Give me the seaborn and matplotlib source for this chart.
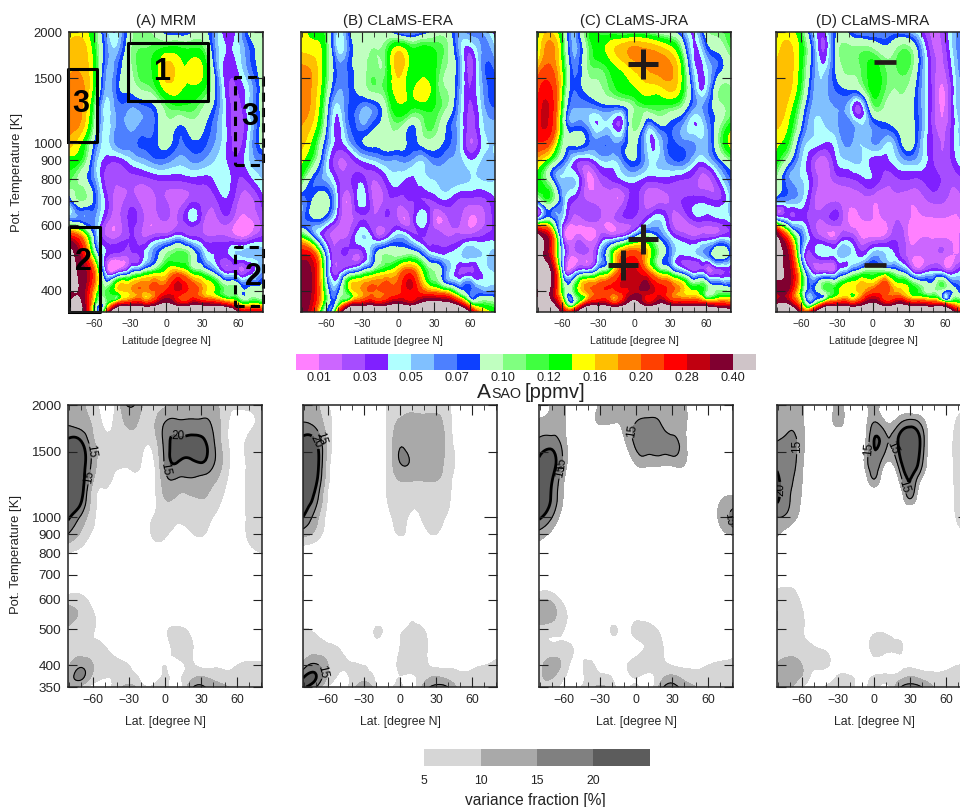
import numpy as np
import seaborn as sns
import matplotlib
matplotlib.use("Agg")
import matplotlib.pyplot as plt
import matplotlib.tri as mtri
from matplotlib.colors import ListedColormap
from matplotlib.patches import Rectangle

sns.set_theme(style="ticks")
plt.rcParams["font.family"] = ["Liberation Sans", "DejaVu Sans"]
plt.rcParams["axes.unicode_minus"] = True

LAT = [-81, -70, -60, -50, -40, -30, -20, -10, 0, 10, 20, 30, 40, 50, 60, 70, 81]
THETA = [2000, 1800, 1600, 1400, 1250, 1120, 1000, 900, 800, 700, 620, 560, 500, 450, 400, 370, 350]

# amplitude in ppbv, rows follow THETA
AMP_MRM = [
    [150, 150, 115, 55, 45, 90, 105, 95, 70, 65, 75, 90, 60, 35, 45, 85, 90],
    [165, 170, 125, 65, 55, 95, 110, 115, 125, 125, 120, 115, 65, 40, 45, 70, 90],
    [175, 175, 130, 60, 70, 95, 115, 125, 165, 150, 145, 142, 75, 35, 40, 65, 90],
    [185, 185, 125, 55, 75, 85, 100, 110, 145, 145, 135, 125, 85, 35, 30, 50, 90],
    [190, 180, 105, 45, 65, 60, 65, 75, 105, 115, 115, 100, 75, 40, 25, 50, 90],
    [185, 170, 95, 45, 62, 55, 62, 68, 95, 80, 90, 85, 65, 40, 22, 45, 90],
    [170, 135, 75, 45, 65, 65, 72, 75, 85, 70, 75, 75, 60, 40, 25, 50, 90],
    [130, 115, 60, 35, 33, 45, 55, 65, 65, 55, 60, 60, 50, 40, 32, 50, 60],
    [115, 90, 60, 25, 22, 25, 25, 30, 32, 32, 35, 35, 40, 45, 30, 35, 50],
    [60, 100, 75, 35, 15, 25, 15, 18, 20, 15, 25, 25, 25, 38, 20, 15, 35],
    [70, 65, 60, 25, 15, 32, 22, 12, 20, 20, 40, 25, 15, 25, 8, 8, 25],
    [260, 180, 70, 20, 18, 30, 20, 25, 30, 45, 30, 25, 20, 20, 10, 15, 30],
    [450, 280, 110, 35, 25, 25, 35, 65, 100, 115, 100, 60, 40, 35, 50, 55, 55],
    [400, 360, 200, 30, 25, 60, 90, 120, 145, 175, 130, 105, 70, 30, 25, 30, 60],
    [400, 360, 170, 110, 150, 170, 190, 200, 240, 280, 230, 180, 140, 105, 95, 85, 85],
    [420, 380, 130, 100, 210, 250, 260, 280, 400, 290, 300, 300, 280, 220, 150, 130, 120],
    [700, 420, 100, 180, 700, 700, 700, 700, 700, 700, 700, 700, 700, 700, 350, 300, 280],
]
AMP_ERA = [
    [150, 135, 110, 45, 75, 90, 100, 90, 60, 50, 65, 85, 90, 60, 65, 60, 30],
    [155, 150, 115, 45, 70, 90, 100, 110, 150, 125, 125, 120, 105, 60, 35, 60, 50],
    [185, 170, 115, 65, 75, 90, 105, 110, 170, 130, 130, 125, 100, 70, 25, 60, 65],
    [190, 170, 105, 60, 72, 88, 105, 115, 150, 135, 155, 125, 100, 65, 30, 55, 75],
    [190, 165, 90, 45, 72, 60, 65, 95, 135, 125, 125, 120, 100, 60, 28, 50, 70],
    [180, 150, 80, 35, 70, 60, 75, 90, 105, 80, 100, 110, 80, 55, 25, 45, 55],
    [170, 125, 65, 35, 55, 78, 85, 90, 90, 75, 85, 90, 75, 55, 20, 40, 50],
    [145, 105, 50, 20, 25, 40, 50, 60, 60, 60, 50, 65, 60, 55, 40, 50, 50],
    [115, 70, 55, 30, 28, 35, 20, 35, 45, 38, 45, 50, 55, 55, 50, 50, 50],
    [60, 85, 90, 35, 15, 45, 15, 25, 25, 30, 30, 30, 38, 28, 25, 25, 38],
    [60, 75, 60, 25, 15, 30, 22, 28, 20, 18, 48, 15, 15, 22, 8, 15, 35],
    [130, 70, 25, 15, 25, 50, 30, 30, 55, 40, 30, 28, 20, 22, 25, 30, 35],
    [280, 220, 65, 25, 25, 25, 70, 100, 95, 100, 75, 45, 40, 45, 55, 50, 55],
    [360, 280, 75, 25, 60, 85, 115, 140, 170, 220, 140, 100, 60, 30, 28, 40, 50],
    [380, 280, 100, 70, 140, 180, 200, 210, 220, 270, 210, 170, 140, 90, 70, 60, 60],
    [380, 260, 100, 100, 220, 270, 290, 300, 360, 310, 400, 440, 420, 300, 130, 110, 100],
    [400, 220, 70, 200, 700, 700, 700, 700, 700, 700, 700, 700, 700, 700, 350, 170, 130],
]
AMP_JRA = [
    [130, 160, 110, 55, 110, 115, 110, 100, 105, 100, 90, 80, 60, 40, 90, 105, 120],
    [130, 190, 125, 55, 95, 130, 150, 170, 185, 180, 170, 150, 100, 38, 65, 85, 110],
    [170, 205, 135, 65, 95, 110, 125, 145, 165, 180, 190, 185, 130, 45, 45, 70, 90],
    [220, 250, 135, 70, 85, 95, 110, 125, 135, 150, 150, 165, 130, 60, 45, 95, 100],
    [240, 270, 120, 60, 60, 65, 70, 70, 100, 110, 115, 110, 95, 60, 65, 90, 105],
    [250, 260, 110, 65, 60, 40, 45, 35, 105, 65, 75, 75, 60, 40, 55, 90, 125],
    [230, 200, 100, 85, 75, 65, 65, 65, 85, 50, 45, 72, 65, 60, 55, 95, 150],
    [170, 120, 75, 40, 30, 45, 50, 62, 80, 55, 50, 65, 70, 50, 45, 70, 100],
    [130, 85, 50, 50, 12, 18, 30, 40, 45, 35, 35, 35, 30, 25, 15, 35, 70],
    [70, 110, 60, 30, 20, 15, 15, 15, 35, 15, 15, 20, 30, 35, 35, 30, 55],
    [65, 90, 45, 15, 20, 20, 12, 25, 25, 35, 50, 25, 15, 30, 30, 35, 45],
    [450, 260, 35, 8, 5, 15, 25, 35, 70, 100, 75, 45, 28, 20, 25, 30, 35],
    [450, 280, 55, 12, 18, 40, 110, 200, 230, 170, 100, 65, 40, 45, 60, 95, 60],
    [450, 400, 70, 30, 55, 90, 130, 240, 290, 220, 130, 100, 60, 30, 25, 25, 25],
    [380, 380, 120, 110, 180, 220, 230, 260, 300, 320, 270, 220, 170, 140, 105, 100, 95],
    [450, 450, 180, 85, 240, 300, 260, 290, 440, 300, 360, 300, 280, 270, 240, 220, 210],
    [700, 700, 320, 300, 700, 700, 700, 700, 700, 700, 700, 700, 700, 700, 700, 600, 500],
]
AMP_MRA = [
    [145, 150, 115, 50, 40, 80, 75, 55, 55, 60, 65, 55, 35, 15, 30, 60, 70],
    [150, 165, 130, 65, 30, 90, 105, 105, 100, 85, 100, 105, 60, 20, 25, 60, 70],
    [165, 170, 125, 65, 45, 85, 105, 110, 125, 110, 110, 110, 65, 25, 20, 55, 65],
    [170, 165, 115, 60, 55, 72, 80, 90, 125, 110, 100, 95, 60, 25, 10, 50, 60],
    [175, 150, 95, 55, 55, 60, 50, 30, 100, 95, 95, 90, 60, 25, 10, 50, 60],
    [165, 135, 80, 50, 50, 58, 65, 50, 65, 75, 85, 90, 62, 25, 15, 45, 55],
    [145, 115, 60, 45, 38, 48, 62, 50, 60, 50, 62, 90, 55, 30, 20, 45, 50],
    [130, 85, 50, 25, 15, 40, 50, 50, 35, 35, 48, 60, 50, 30, 22, 40, 50],
    [100, 60, 50, 28, 15, 25, 28, 35, 38, 25, 28, 30, 30, 35, 25, 25, 35],
    [60, 58, 50, 22, 15, 18, 12, 15, 12, 15, 18, 12, 15, 22, 20, 15, 30],
    [75, 40, 38, 22, 22, 28, 8, 8, 8, 10, 20, 10, 8, 8, 8, 8, 20],
    [420, 180, 70, 30, 15, 15, 28, 8, 8, 12, 28, 8, 8, 8, 8, 8, 20],
    [450, 300, 65, 30, 45, 48, 50, 35, 55, 50, 35, 15, 12, 15, 15, 10, 25],
    [420, 340, 120, 30, 25, 35, 65, 95, 105, 105, 85, 50, 25, 40, 30, 35, 40],
    [330, 300, 120, 70, 105, 130, 150, 170, 210, 220, 170, 140, 110, 95, 80, 80, 70],
    [360, 340, 150, 80, 200, 250, 250, 290, 400, 280, 340, 280, 270, 240, 180, 140, 120],
    [700, 700, 260, 300, 700, 700, 700, 700, 700, 700, 700, 700, 700, 700, 700, 300, 280],
]

# variance fraction in percent
VAR_MRM = [
    [12, 11, 7, 3, 7, 16, 11, 8, 9, 11, 11, 11, 12, 7, 6, 6, 6],
    [14, 12, 9, 4, 7, 11, 9, 9, 15, 16, 16, 16, 14, 7, 3, 4, 6],
    [21, 20, 11, 6, 7, 9, 7, 7, 17, 21, 21, 21, 16, 7, 3, 6, 7],
    [24, 23, 13, 6, 5.5, 6, 5, 4, 16, 20, 19, 20, 16, 8, 3, 6, 8],
    [25, 23, 10, 5.5, 4, 3, 3, 3, 13, 14, 14, 13, 11, 6, 3, 6, 7],
    [25, 21, 7, 4, 2, 1, 1, 3, 10, 9, 9, 10, 8, 4, 3, 6, 8],
    [21, 14, 6, 2, 1, 1, 1, 5, 8, 6, 7, 7, 5, 2, 2, 6, 9],
    [15, 9, 4, 1, 0, 0, 0, 6, 6, 3, 4, 5.5, 3, 1, 1, 6, 7],
    [5, 3, 1, 0, 0, 0, 0, 1, 1, 0, 0, 1, 0, 0, 0, 3, 5],
    [1, 0, 0, 0, 0, 0, 0, 0, 0, 0, 0, 0, 0, 0, 0, 0, 0],
    [5, 5, 2, 0, 0, 0, 0, 0, 0, 0, 0, 0, 0, 0, 0, 0, 0],
    [12, 9, 5, 2, 0, 0, 0, 0, 0, 0, 0, 0, 0, 0, 0, 0, 0],
    [9, 7, 5.2, 3, 0, 0, 0, 0, 4, 6, 4, 0, 0, 0, 0, 0, 0],
    [7, 7, 6, 5, 2, 0, 0, 0, 3, 7, 6.5, 2, 0, 0, 0, 0, 0],
    [9, 14, 10, 6, 6, 5, 3, 3, 5, 4, 5.5, 4, 4, 4, 5, 6, 6],
    [11, 16, 8, 5, 6, 7, 4, 3, 5.5, 4, 8, 11, 9, 7, 6, 6, 6],
    [11, 8, 3, 4, 7, 12, 7, 6, 7, 2, 12, 16, 13, 11, 8, 7, 7],
]
VAR_ERA = [
    [12, 11, 5, 1, 0, 0, 0, 5.5, 7, 7, 7, 7, 6, 1, 0, 0, 0],
    [15, 13, 7, 1, 0, 0, 0, 6, 11, 12, 12, 12, 7, 1, 0, 0, 0],
    [22, 20, 8, 1, 0, 0, 0, 6, 14, 12, 13, 13, 8, 1, 0, 0, 0],
    [25, 23, 7, 1, 0, 0, 0, 6, 15, 14, 12, 12, 8, 3, 0, 0, 0],
    [25, 21, 6, 1, 0, 0, 0, 6, 10, 10, 10, 10, 7, 1, 0, 0, 0],
    [23, 17, 4, 0, 0, 0, 0, 5.5, 9, 7, 7, 8, 6, 1, 0, 0, 0],
    [20, 12, 3, 0, 0, 0, 0, 3, 7, 4, 6, 7, 4, 0, 0, 0, 0],
    [12, 8, 2, 0, 0, 0, 0, 1, 5.5, 2, 3, 5, 1, 0, 0, 0, 0],
    [1, 0, 0, 0, 0, 0, 0, 0, 0, 0, 0, 0, 0, 0, 0, 0, 0],
    [0, 0, 0, 0, 0, 0, 0, 0, 0, 0, 0, 0, 0, 0, 0, 0, 0],
    [5.2, 2, 0, 0, 0, 0, 0, 0, 0, 0, 0, 0, 0, 0, 0, 0, 0],
    [3, 1, 0, 0, 0, 0, 0, 0, 0, 3, 0, 0, 0, 0, 0, 0, 0],
    [5, 4, 1, 0, 0, 0, 5.5, 3, 4, 6, 5, 0, 0, 0, 0, 0, 0],
    [6, 7, 6, 4, 0, 0, 3, 1, 5, 8, 6.5, 2, 0, 0, 0, 0, 0],
    [12, 16, 10, 6, 5.5, 5, 3, 2, 6, 7, 6, 4, 4, 3, 4, 5, 7],
    [20, 20, 9, 4, 6, 8, 4, 3, 5, 4, 8, 11, 9, 7, 6, 6, 7],
    [20, 15, 4, 4, 7, 15, 6, 3, 6, 3, 12, 16, 15, 8, 6, 5, 6],
]
VAR_JRA = [
    [6, 11, 11, 2, 2, 11, 11, 11, 11, 11, 12, 11, 11, 2, 0, 0, 0],
    [11, 12, 11, 2, 5, 11, 10.5, 11, 15, 16, 15, 13, 12, 2, 0, 0, 0],
    [16, 17, 12, 2, 0, 2, 2, 9, 16, 17, 17, 16, 12, 2, 0, 0, 0],
    [21, 22, 13, 3, 0, 0, 0, 2, 11, 12, 12, 12, 11, 2, 0, 0, 0],
    [24, 20, 10, 2, 0, 0, 0, 0, 2, 3, 2, 1, 2, 0, 0, 3, 7],
    [24, 19, 9, 2, 0, 0, 0, 0, 0, 0, 0, 0, 0, 0, 2, 9, 11],
    [21, 15, 6, 1, 0, 0, 0, 0, 0, 0, 0, 0, 0, 0, 5, 11, 17],
    [13, 8, 2, 0, 0, 0, 0, 0, 0, 0, 0, 0, 0, 0, 2, 7, 11],
    [5, 1, 0, 0, 0, 0, 0, 0, 0, 0, 0, 0, 0, 0, 0, 0, 0],
    [0, 0, 0, 0, 0, 0, 0, 0, 0, 0, 0, 0, 0, 0, 0, 0, 0],
    [7, 6, 2, 0, 0, 0, 0, 0, 0, 0, 0, 0, 0, 0, 0, 0, 0],
    [15, 12, 6, 2, 0, 0, 0, 0, 0, 0, 0, 0, 0, 0, 0, 0, 0],
    [8, 7, 5, 2, 0, 0, 5.5, 3.5, 7, 7, 4, 0, 0, 0, 0, 0, 0],
    [7, 6, 6, 4, 1, 0, 1, 1, 3, 6, 6, 2, 0, 0, 0, 0, 0],
    [8, 12, 8, 3, 6, 3, 2, 4, 7, 7, 6, 5, 4, 4, 5, 6, 7],
    [9, 10, 5, 3, 6, 7, 5, 3, 5, 3, 8, 12, 9, 7, 6, 6, 6],
    [9, 8, 3, 4, 7, 11, 7, 3, 6, 2, 12, 17, 13, 10, 7, 6, 6],
]
VAR_MRA = [
    [11, 12, 11, 2, 0, 13, 2, 3, 14, 3, 2, 0, 0, 0, 0, 2, 2],
    [12, 14, 11, 2, 2, 13, 2, 3, 15, 10, 13, 17, 13, 2, 0, 6, 7],
    [15, 16, 12, 2, 0, 1, 0, 4, 20, 16, 20, 24, 18, 2, 0, 8, 8],
    [19, 17, 11, 2, 0, 0, 0, 7, 19, 10, 16, 24, 16, 2, 0, 8, 8],
    [21, 16, 10, 2, 0, 0, 0, 2, 14, 2, 8, 20, 8, 2, 0, 8, 8],
    [21, 15, 9, 1, 0, 0, 0, 0, 1, 0, 1, 15, 2, 0, 0, 7, 8],
    [15, 13, 7, 1, 0, 0, 0, 0, 0, 0, 0, 0, 0, 0, 0, 6, 7],
    [11, 6, 2, 0, 0, 0, 0, 0, 0, 0, 0, 0, 0, 0, 0, 3, 2],
    [1, 0, 0, 0, 0, 0, 0, 0, 0, 0, 0, 0, 0, 0, 0, 0, 0],
    [0, 0, 0, 0, 0, 0, 0, 0, 0, 0, 0, 0, 0, 0, 0, 0, 0],
    [7, 7, 3, 0, 0, 0, 0, 0, 0, 0, 0, 0, 0, 0, 0, 0, 0],
    [10, 7, 5.2, 1, 0, 0, 0, 0, 0, 0, 0, 0, 0, 0, 0, 0, 0],
    [9, 7, 5.5, 2, 0, 0, 0, 0, 3, 3, 1, 0, 0, 0, 0, 0, 0],
    [7, 6, 6, 5, 3, 0, 0, 1, 7, 7, 6, 2, 0, 0, 0, 0, 0],
    [10, 13, 10, 6, 6, 2, 1, 1, 3, 2, 3, 4, 3, 3, 4, 5, 6],
    [10, 12, 9, 3, 2, 6, 6, 3, 6, 6, 8, 11, 9, 7, 6, 6, 6],
    [9, 11, 5, 3, 6, 8, 7, 3, 7, 3, 13, 17, 15, 10, 7, 6, 6],
]

AMP_LEVELS = [0.01, 0.02, 0.03, 0.04, 0.05, 0.06, 0.07, 0.08, 0.10, 0.11, 0.12, 0.14,
              0.16, 0.18, 0.20, 0.24, 0.28, 0.32, 0.40]
AMP_COLORS = ["#ff80ff", "#cc66ff", "#a64dff", "#8020ff", "#b0ffff", "#80c0ff", "#4d80ff",
              "#0d40ff", "#c0ffc0", "#80ff80", "#40ff40", "#00ff00", "#ffff00", "#ffc000",
              "#ff8000", "#ff4000", "#ff0000", "#c00010", "#800030", "#cfc4c8"]
AMP_TICKS = ["0.01", "0.03", "0.05", "0.07", "0.10", "0.12", "0.16", "0.20", "0.28", "0.40"]
VAR_LEVELS = [5, 10, 15, 20]
VAR_COLORS = ["#d6d6d6", "#a9a9a9", "#808080", "#5c5c5c"]
VAR_TICKS = ["5", "10", "15", "20"]

TITLES = ["(A) MRM", "(B) CLaMS-ERA", "(C) CLaMS-JRA", "(D) CLaMS-MRA"]
TOP_LEFT = [69, 301, 537, 776]
BOT_LEFT = [68, 303, 539, 777]
TOP_YTICKS = [2000, 1500, 1000, 900, 800, 700, 600, 500, 400]
BOT_YTICKS = [2000, 1500, 1000, 900, 800, 700, 600, 500, 400, 350]

# marked regions in panel A: lat0, lat1, theta0, theta1
SOLID_BOXES = [(-31.5, 35, 1300, 1863), (-81.5, -57.8, 1009, 1588), (-80.8, -55.5, 350, 594)]
DASHED_BOXES = [(57.5, 81, 876, 1507), (57.5, 81, 363, 526)]
BOX_LABELS = [("1", -4, 1561), ("3", -71, 1281), ("2", -69, 477), ("3", 70, 1175), ("2", 73, 434)]
PLUS_C = [(7.5, 1638), (7.5, 552), (-9, 469)]
MINUS_D = [(10, 1662), (2, 469)]

# where the contour labels sit on the lower row
LABELS_MRM = [(-58, 1514), (-64.4, 1284), (11, 1662), (-2, 1346)]
LABELS_ERA = [(-62, 1644), (-66.7, 1609), (-55, 392)]
LABELS_JRA = [(-3.6, 1706), (-64, 1330), (-59.2, 1358), (71, 982)]
LABELS_MRA = [(-62.5, 1545), (-75, 1187), (-2, 1517), (17, 1545), (24.4, 1208)]
# upper region drawn without the palest band: lat1, theta floor
NO_PALE = [None, None, (81, 700), (60, 700)]

W, H = 960, 807
fig = plt.figure(figsize=(W / 100, H / 100), dpi=100, facecolor="white")

grid_x, grid_y = np.meshgrid(np.array(LAT, dtype=float) * 1.2, np.log10(THETA) * 369)
base_tri = mtri.Triangulation(grid_x.ravel(), grid_y.ravel())
refiner = mtri.UniformTriRefiner(base_tri)


def px_axes(x0, y0, x1, y1):
    return fig.add_axes([x0 / W, 1 - y1 / H, (x1 - x0) / W, (y1 - y0) / H])


def refined(vals):
    tri, z = refiner.refine_field(np.asarray(vals, dtype=float).ravel(), subdiv=3)
    return mtri.Triangulation(tri.x / 1.2, 10 ** (tri.y / 369), tri.triangles), z


def style_axes(ax, yticks, labelsize, long_1000):
    ax.set_yscale("log")
    ax.set_xlim(-81, 81)
    ax.set_ylim(350, 2000)
    ax.set_xticks([-60, -30, 0, 30, 60])
    ax.set_xticks(np.arange(-80, 81, 10), minor=True)
    ax.set_yticks(yticks)
    ax.set_yticks([], minor=True)
    ax.set_axisbelow(False)
    ax.tick_params(axis="x", which="major", direction="in", top=True, length=7, width=0.8,
                   labelsize=labelsize, pad=5, color="#222222")
    ax.tick_params(axis="x", which="minor", direction="in", top=True, length=3.6, width=0.6,
                   color="#222222")
    ax.tick_params(axis="y", which="major", direction="in", right=True, length=6.5, width=0.8,
                   color="#222222")
    for tick, val in zip(ax.yaxis.get_major_ticks(), yticks):
        if val == 1000:
            tick.tick1line.set_markersize(long_1000)
            tick.tick2line.set_markersize(long_1000)
    for s in ax.spines.values():
        s.set_linewidth(1.1)
        s.set_color("#222222")


def amp_panel(ax, data):
    tri, z = refined(np.array(data) / 1000.0)
    ax.tricontourf(tri, z, levels=[-9] + AMP_LEVELS + [9], colors=AMP_COLORS)


def var_panel(ax, data, no_pale):
    tri, z = refined(data)
    ax.tricontourf(tri, z, levels=[-99] + VAR_LEVELS + [199], colors=["white"] + VAR_COLORS)
    if no_pale:
        cover = ax.tricontourf(tri, z, levels=[-99] + VAR_LEVELS + [199],
                               colors=["white", "white"] + VAR_COLORS[1:])
        cover.set_clip_path(Rectangle((-81, no_pale[1]), no_pale[0] + 81, 2000 - no_pale[1],
                                      transform=ax.transData))
    return tri, z


top_data = [AMP_MRM, AMP_ERA, AMP_JRA, AMP_MRA]
bot_data = [VAR_MRM, VAR_ERA, VAR_JRA, VAR_MRA]
bot_labels = [LABELS_MRM, LABELS_ERA, LABELS_JRA, LABELS_MRA]

top_axes = []
for i in range(4):
    ax = px_axes(TOP_LEFT[i], 32, TOP_LEFT[i] + 194, 312)
    amp_panel(ax, top_data[i])
    style_axes(ax, TOP_YTICKS, 7.5, 6.5)
    ax.set_xlabel("Latitude [degree N]", fontsize=7.5, labelpad=5)
    ax.set_title(TITLES[i], fontsize=10.8, pad=5, color="#222222")
    if i == 0:
        ax.set_yticklabels([str(t) for t in TOP_YTICKS], fontsize=9.4)
        ax.tick_params(axis="y", pad=5)
    else:
        ax.set_yticklabels([])
    top_axes.append(ax)

    bx = px_axes(BOT_LEFT[i], 405, BOT_LEFT[i] + 194, 687)
    tri, z = var_panel(bx, bot_data[i], NO_PALE[i])
    style_axes(bx, BOT_YTICKS, 8.9, 9.5)
    cs = bx.tricontour(tri, z, levels=[15, 20], colors="black", linewidths=[0.8, 2.0])
    bx.clabel(cs, fmt="%d", fontsize=8.5, inline=True, inline_spacing=1, manual=bot_labels[i])
    bx.set_xlabel("Lat. [degree N]", fontsize=8.8, labelpad=7)
    if i == 0:
        bx.set_yticklabels([str(t) for t in BOT_YTICKS], fontsize=9.7)
        bx.tick_params(axis="y", pad=5)
    else:
        bx.set_yticklabels([])

# boxes, digits and signs on the upper row
ax = top_axes[0]
for la0, la1, t0, t1 in SOLID_BOXES:
    ax.plot([la0, la1, la1, la0, la0], [t0, t0, t1, t1, t0], color="black", lw=2.2, clip_on=False)
for la0, la1, t0, t1 in DASHED_BOXES:
    ax.plot([la0, la1, la1, la0, la0], [t0, t0, t1, t1, t0], color="black", lw=2.2, ls=(0, (3, 2)),
            clip_on=False)
for s, la, t in BOX_LABELS:
    ax.text(la, t, s, fontsize=22, fontweight="bold", ha="center", va="center", color="black")
for la, t in PLUS_C:
    top_axes[2].plot(la, t, marker="+", ms=21, mew=3.6, color="#221a18")
for la, t in MINUS_D:
    top_axes[3].plot(la, t, marker="_", ms=16, mew=3.4, color="#221a18")

fig.text(17 / W, 1 - 172 / H, "Pot. Temperature [K]", rotation=90, fontsize=9.4, ha="center",
         va="center", color="#222222")
fig.text(16 / W, 1 - 555 / H, "Pot. Temperature [K]", rotation=90, fontsize=9.4, ha="center",
         va="center", color="#222222")

# amplitude colour key
cax = px_axes(296, 354, 756, 370)
sns.heatmap([list(range(20))], ax=cax, cmap=ListedColormap(AMP_COLORS), cbar=False,
            xticklabels=False, yticklabels=False, vmin=-0.5, vmax=19.5)
cax.set_xticks(np.arange(1, 20, 2))
cax.set_xticklabels(AMP_TICKS, fontsize=9.2, rotation=0, color="#222222")
cax.tick_params(axis="x", length=0, pad=1.5)
fig.text(477 / W, 1 - 398 / H, "A", fontsize=15, color="#222222")
fig.text(491 / W, 1 - 398 / H, "SAO", fontsize=10.3, color="#222222")
fig.text(525 / W, 1 - 398 / H, "[ppmv]", fontsize=14.5, color="#222222")

# variance colour key
vax = px_axes(424, 749, 650, 766)
sns.heatmap([list(range(4))], ax=vax, cmap=ListedColormap(VAR_COLORS), cbar=False,
            xticklabels=False, yticklabels=False, vmin=-0.5, vmax=3.5)
vax.set_xticks(np.arange(4))
vax.set_xticklabels(VAR_TICKS, fontsize=8.8, rotation=0, color="#222222")
vax.tick_params(axis="x", length=0, pad=6.5)
fig.text(535 / W, 1 - 800 / H, "variance fraction [%]", fontsize=11.2, ha="center", va="center",
         color="#222222")

fig.savefig("out.png", dpi=100)
